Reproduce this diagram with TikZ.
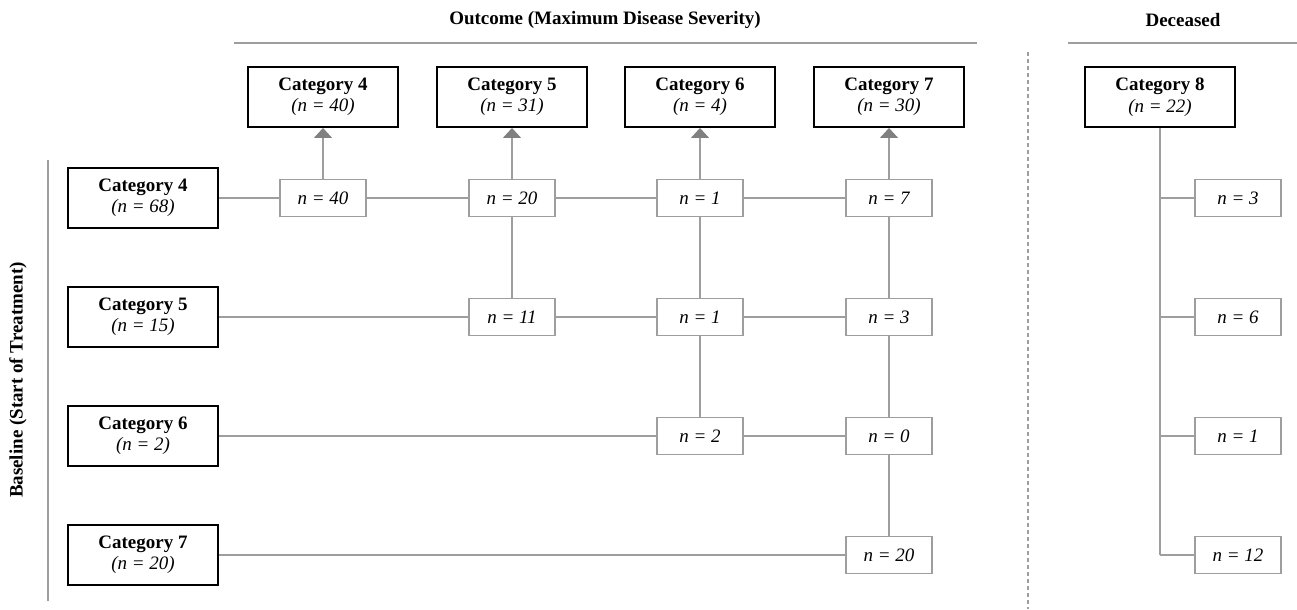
\documentclass[tikz,border=0pt]{standalone}
\usepackage{fontspec}
\setmainfont{Liberation Serif}
\usetikzlibrary{arrows.meta,positioning}
\definecolor{linegray}{RGB}{158,158,158}
\definecolor{tipgray}{RGB}{128,128,128}
\newcommand{\catfont}{\fontsize{10.8}{12.2}\selectfont}
\tikzset{
  catbox/.style={draw=black, line width=1.1pt, fill=white, minimum width=3cm,
                 minimum height=1.2cm, align=center, inner sep=2pt, font=\catfont},
  cellbox/.style={draw=linegray, line width=0.8pt, fill=white, minimum width=1.72cm,
                  minimum height=0.74cm, inner sep=2pt, font=\catfont\itshape},
  link/.style={draw=linegray, line width=0.8pt},
  toarr/.style={link, -{Triangle[length=0.2cm, width=0.36cm, color=tipgray]}},
  head/.style={font=\catfont\bfseries},
}

\begin{document}
\begin{tikzpicture}[x=0.02cm, y=-0.02cm]
\useasboundingbox (0,0) rectangle (1297,609);

% headings
\node[head] (outcome) at (605,20) {Outcome (Maximum Disease Severity)};
\node[head] (deceased) at (1183,20) {Deceased};
\node[head, rotate=90] (baseline) at (18,380) {Baseline (Start of Treatment)};
\draw[link, line width=1pt] (234,43) -- (977,43);
\draw[link, line width=1pt] (1068,43) -- (1297,43);
\draw[link, line width=1pt] (48,160) -- (48,601);
\draw[linegray, line width=0.7pt, dash pattern=on 2.3pt off 1.7pt] (1028,52) -- (1028,609);

% outcome categories
\node[catbox] (top4) at (323,97) {\textbf{Category 4}\\\textit{(n = 40)}};
\node[catbox] (top5) at (512,97) {\textbf{Category 5}\\\textit{(n = 31)}};
\node[catbox] (top6) at (700,97) {\textbf{Category 6}\\\textit{(n = 4)}};
\node[catbox] (top7) at (889,97) {\textbf{Category 7}\\\textit{(n = 30)}};
\node[catbox] (top8) at (1160,97) {\textbf{Category 8}\\\textit{(n = 22)}};

% baseline categories
\node[catbox] (base4) at (143,198) {\textbf{Category 4}\\\textit{(n = 68)}};
\node[catbox] (base5) at (143,317) {\textbf{Category 5}\\\textit{(n = 15)}};
\node[catbox] (base6) at (143,436) {\textbf{Category 6}\\\textit{(n = 2)}};
\node[catbox] (base7) at (143,555) {\textbf{Category 7}\\\textit{(n = 20)}};

% transitions
\node[cellbox] (c44) at (323,198) {n = 40};
\node[cellbox] (c45) at (512,198) {n = 20};
\node[cellbox] (c46) at (700,198) {n = 1};
\node[cellbox] (c47) at (889,198) {n = 7};
\node[cellbox] (c55) at (512,317) {n = 11};
\node[cellbox] (c56) at (700,317) {n = 1};
\node[cellbox] (c57) at (889,317) {n = 3};
\node[cellbox] (c66) at (700,436) {n = 2};
\node[cellbox] (c67) at (889,436) {n = 0};
\node[cellbox] (c77) at (889,555) {n = 20};

% deaths
\node[cellbox] (d4) at (1238,198) {n = 3};
\node[cellbox] (d5) at (1238,317) {n = 6};
\node[cellbox] (d6) at (1238,436) {n = 1};
\node[cellbox] (d7) at (1238,555) {n = 12};

% rows
\draw[link] (base4) -- (c44) -- (c45) -- (c46) -- (c47);
\draw[link] (base5) -- (c55) -- (c56) -- (c57);
\draw[link] (base6) -- (c66) -- (c67);
\draw[link] (base7) -- (c77);

% columns
\draw[toarr] (c44) -- (top4);
\draw[link] (c55) -- (c45);
\draw[toarr] (c45) -- (top5);
\draw[link] (c66) -- (c56) -- (c46);
\draw[toarr] (c46) -- (top6);
\draw[link] (c77) -- (c67) -- (c57) -- (c47);
\draw[toarr] (c47) -- (top7);

% deceased branch
\coordinate (j4) at (1160,198);
\coordinate (j5) at (1160,317);
\coordinate (j6) at (1160,436);
\coordinate (j7) at (1160,555);
\draw[link] (top8) -- (j7);
\draw[link] (j4) -- (d4);
\draw[link] (j5) -- (d5);
\draw[link] (j6) -- (d6);
\draw[link] (j7) -- (d7);

\end{tikzpicture}
\end{document}
